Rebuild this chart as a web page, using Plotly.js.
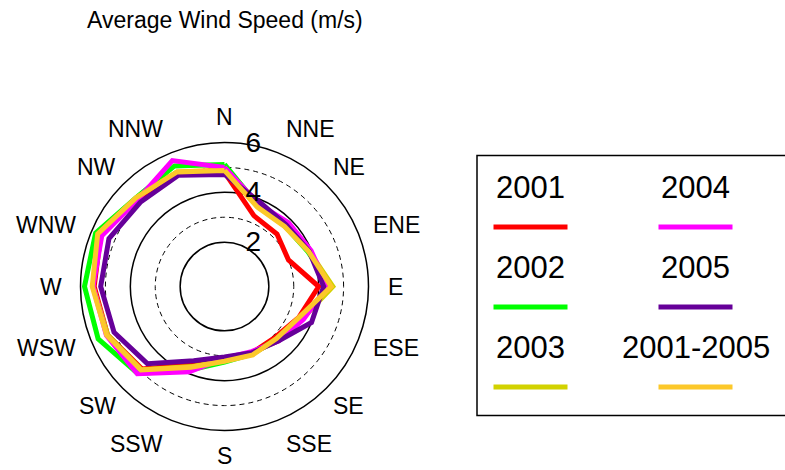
<!DOCTYPE html>
<html>
<head>
<meta charset="utf-8">
<script src="https://cdn.plot.ly/plotly-3.0.1.min.js"></script>
<style>html,body{margin:0;padding:0;background:#fff;}#chart{width:785px;height:470px;}</style>
</head>
<body>
<div id="chart"></div>
<script>
// Directions (categories)
const directions = ['N','NNE','NE','ENE','E','ESE','SE','SSE','S','SSW','SW','WSW','W','WNW','NW','NNW'];
// Series names and colours
const seriesNames = ['2001','2002','2003','2004','2005','2001-2005'];
const seriesColors = ['#ff0000','#00ff00','#d2d200','#ff00ff','#660099','#fcc82a'];
// Average wind speed (m/s) per direction
const speed2001 = [4.80, 3.30, 3.20, 3.00, 4.00, 3.45, 3.10, 3.10, 3.20, 3.60, 4.90, 5.30, 5.45, 5.60, 5.20, 5.10];
const speed2002 = [5.12, 3.75, 3.65, 3.85, 4.50, 3.60, 3.20, 3.15, 3.25, 3.85, 5.15, 5.71, 5.84, 5.82, 5.25, 5.46];
const speed2003 = [4.90, 3.70, 3.65, 3.90, 4.57, 3.60, 3.30, 3.10, 3.20, 3.70, 4.95, 5.30, 5.50, 5.70, 5.25, 5.20];
const speed2004 = [5.00, 3.80, 3.85, 3.98, 4.35, 3.65, 3.30, 3.05, 3.10, 3.92, 5.17, 5.35, 5.50, 5.55, 5.15, 5.69];
const speed2005 = [4.72, 3.89, 3.72, 3.90, 4.20, 4.00, 3.30, 3.10, 3.05, 3.45, 4.60, 5.02, 5.19, 5.24, 5.00, 5.05];
const speedAll  = [4.88, 3.67, 3.63, 3.88, 4.50, 3.46, 3.17, 3.19, 3.22, 3.73, 4.96, 5.34, 5.53, 5.73, 5.25, 5.20];
const seriesValues = [speed2001, speed2002, speed2003, speed2004, speed2005, speedAll];
// Radial ticks
const solidRings = [2, 4, 6];
const solidRingLabels = ['2', '4', '6'];
const dashedRings = [3, 5];

const W = 785, H = 470;
const FONT = 'Liberation Sans, Arial, Helvetica, sans-serif';
const px = v => v / W, py = v => 1 - v / H;

const thetaClosed = directions.concat([directions[0]]);
const traces = [];
// invisible anchor trace for the dashed-grid subplot
traces.push({type:'scatterpolar', subplot:'polar', r:[dashedRings[0]], theta:[0], mode:'markers',
  marker:{opacity:0}, hoverinfo:'skip', showlegend:false});
seriesValues.forEach((vals, i) => {
  traces.push({
    type:'scatterpolar', subplot:'polar2', name:seriesNames[i],
    r: vals.concat([vals[0]]), theta: thetaClosed, mode:'lines',
    line:{color:seriesColors[i], width:5}, showlegend:false
  });
});

// polar frame (pixels)
const CX = 224.5, CY = 286.5, R = 144;
const domain = {x:[px(CX - R), px(CX + R)], y:[py(CY + R), py(CY - R)]};
const rRange = [0.22, 6];

const annotations = [];
// Compass labels around the frame
const ctx = document.createElement('canvas').getContext('2d');
const LABEL_SIZE = 23;
ctx.font = LABEL_SIZE + 'px "Liberation Sans", Arial, sans-serif';
const LABEL_DIST = R + 17, CAP_HALF = LABEL_SIZE * 0.36;
directions.forEach((d, i) => {
  const a = i * 2 * Math.PI / directions.length;
  const s = Math.sin(a), c = Math.cos(a);
  const w = ctx.measureText(d).width;
  let x = CX + LABEL_DIST * s, y = CY - LABEL_DIST * c;
  if (Math.abs(s) > 0.1) x += Math.sign(s) * w / 2;
  if (Math.abs(c) > 0.9) y -= Math.sign(c) * CAP_HALF;
  if (Math.abs(c) > 0.5 && Math.abs(c) < 0.9) { x -= Math.sign(s) * 5; y -= Math.sign(c) * 5.5; }
  if (Math.abs(s) > 0.99) x += Math.sign(s) * 2;
  annotations.push({xref:'paper', yref:'paper', x:px(x), y:py(y), text:d, showarrow:false,
    xanchor:'center', yanchor:'middle', font:{family:FONT, size:LABEL_SIZE, color:'#000'}});
});

// Custom legend: box + labels + swatches
const shapes = [{type:'rect', xref:'paper', yref:'paper', x0:px(477), x1:px(840), y0:py(415.5), y1:py(155.5),
  line:{color:'#000', width:1.5}, fillcolor:'rgba(0,0,0,0)'}];
seriesNames.forEach((name, i) => {
  const col = Math.floor(i / 3), row = i % 3;
  const tx = 530.5 + col * 165, ty = 187 + row * 80;
  const ly = 227 + row * 80;
  annotations.push({xref:'paper', yref:'paper', x:px(tx), y:py(ty), text:name, showarrow:false,
    xanchor:'center', yanchor:'middle', font:{family:FONT, size:31, color:'#000'}});
  shapes.push({type:'line', xref:'paper', yref:'paper', x0:px(tx-37), x1:px(tx+37), y0:py(ly), y1:py(ly),
    line:{color:seriesColors[i], width:5}});
});

const layout = {
  width: W, height: H,
  margin:{l:0, r:0, t:0, b:0},
  paper_bgcolor:'#fff',
  font:{family:FONT, color:'#000'},
  showlegend:false,
  title:{text:'Average Wind Speed (m/s)', x:px(87), xanchor:'left', y:py(20), yanchor:'middle',
    font:{family:FONT, size:23, color:'#000'}},
  polar:{
    domain: domain, bgcolor:'#fff',
    radialaxis:{range:rRange, tickvals:dashedRings, showticklabels:false, ticks:'', showline:false,
      showgrid:true, gridcolor:'#000', gridwidth:1, griddash:'5px,4px'},
    angularaxis:{showline:false, showgrid:false, showticklabels:false, ticks:'', direction:'clockwise', rotation:90}
  },
  polar2:{
    domain: domain, bgcolor:'rgba(0,0,0,0)',
    radialaxis:{range:rRange, tickvals:solidRings, ticktext:solidRingLabels, angle:90, side:'clockwise',
      showline:false, ticks:'outside', ticklen:15, tickcolor:'rgba(0,0,0,0)',
      tickfont:{family:FONT, size:28, color:'#000'}, tickangle:90,
      showgrid:true, gridcolor:'#000', gridwidth:1.5},
    angularaxis:{type:'category', categoryarray:directions, direction:'clockwise', rotation:90,
      showline:true, linecolor:'#000', linewidth:1.5, showgrid:false, ticks:'', showticklabels:false}
  },
  shapes: shapes,
  annotations: annotations
};

Plotly.newPlot('chart', traces, layout, {displayModeBar:false, staticPlot:true});
</script>
</body>
</html>
